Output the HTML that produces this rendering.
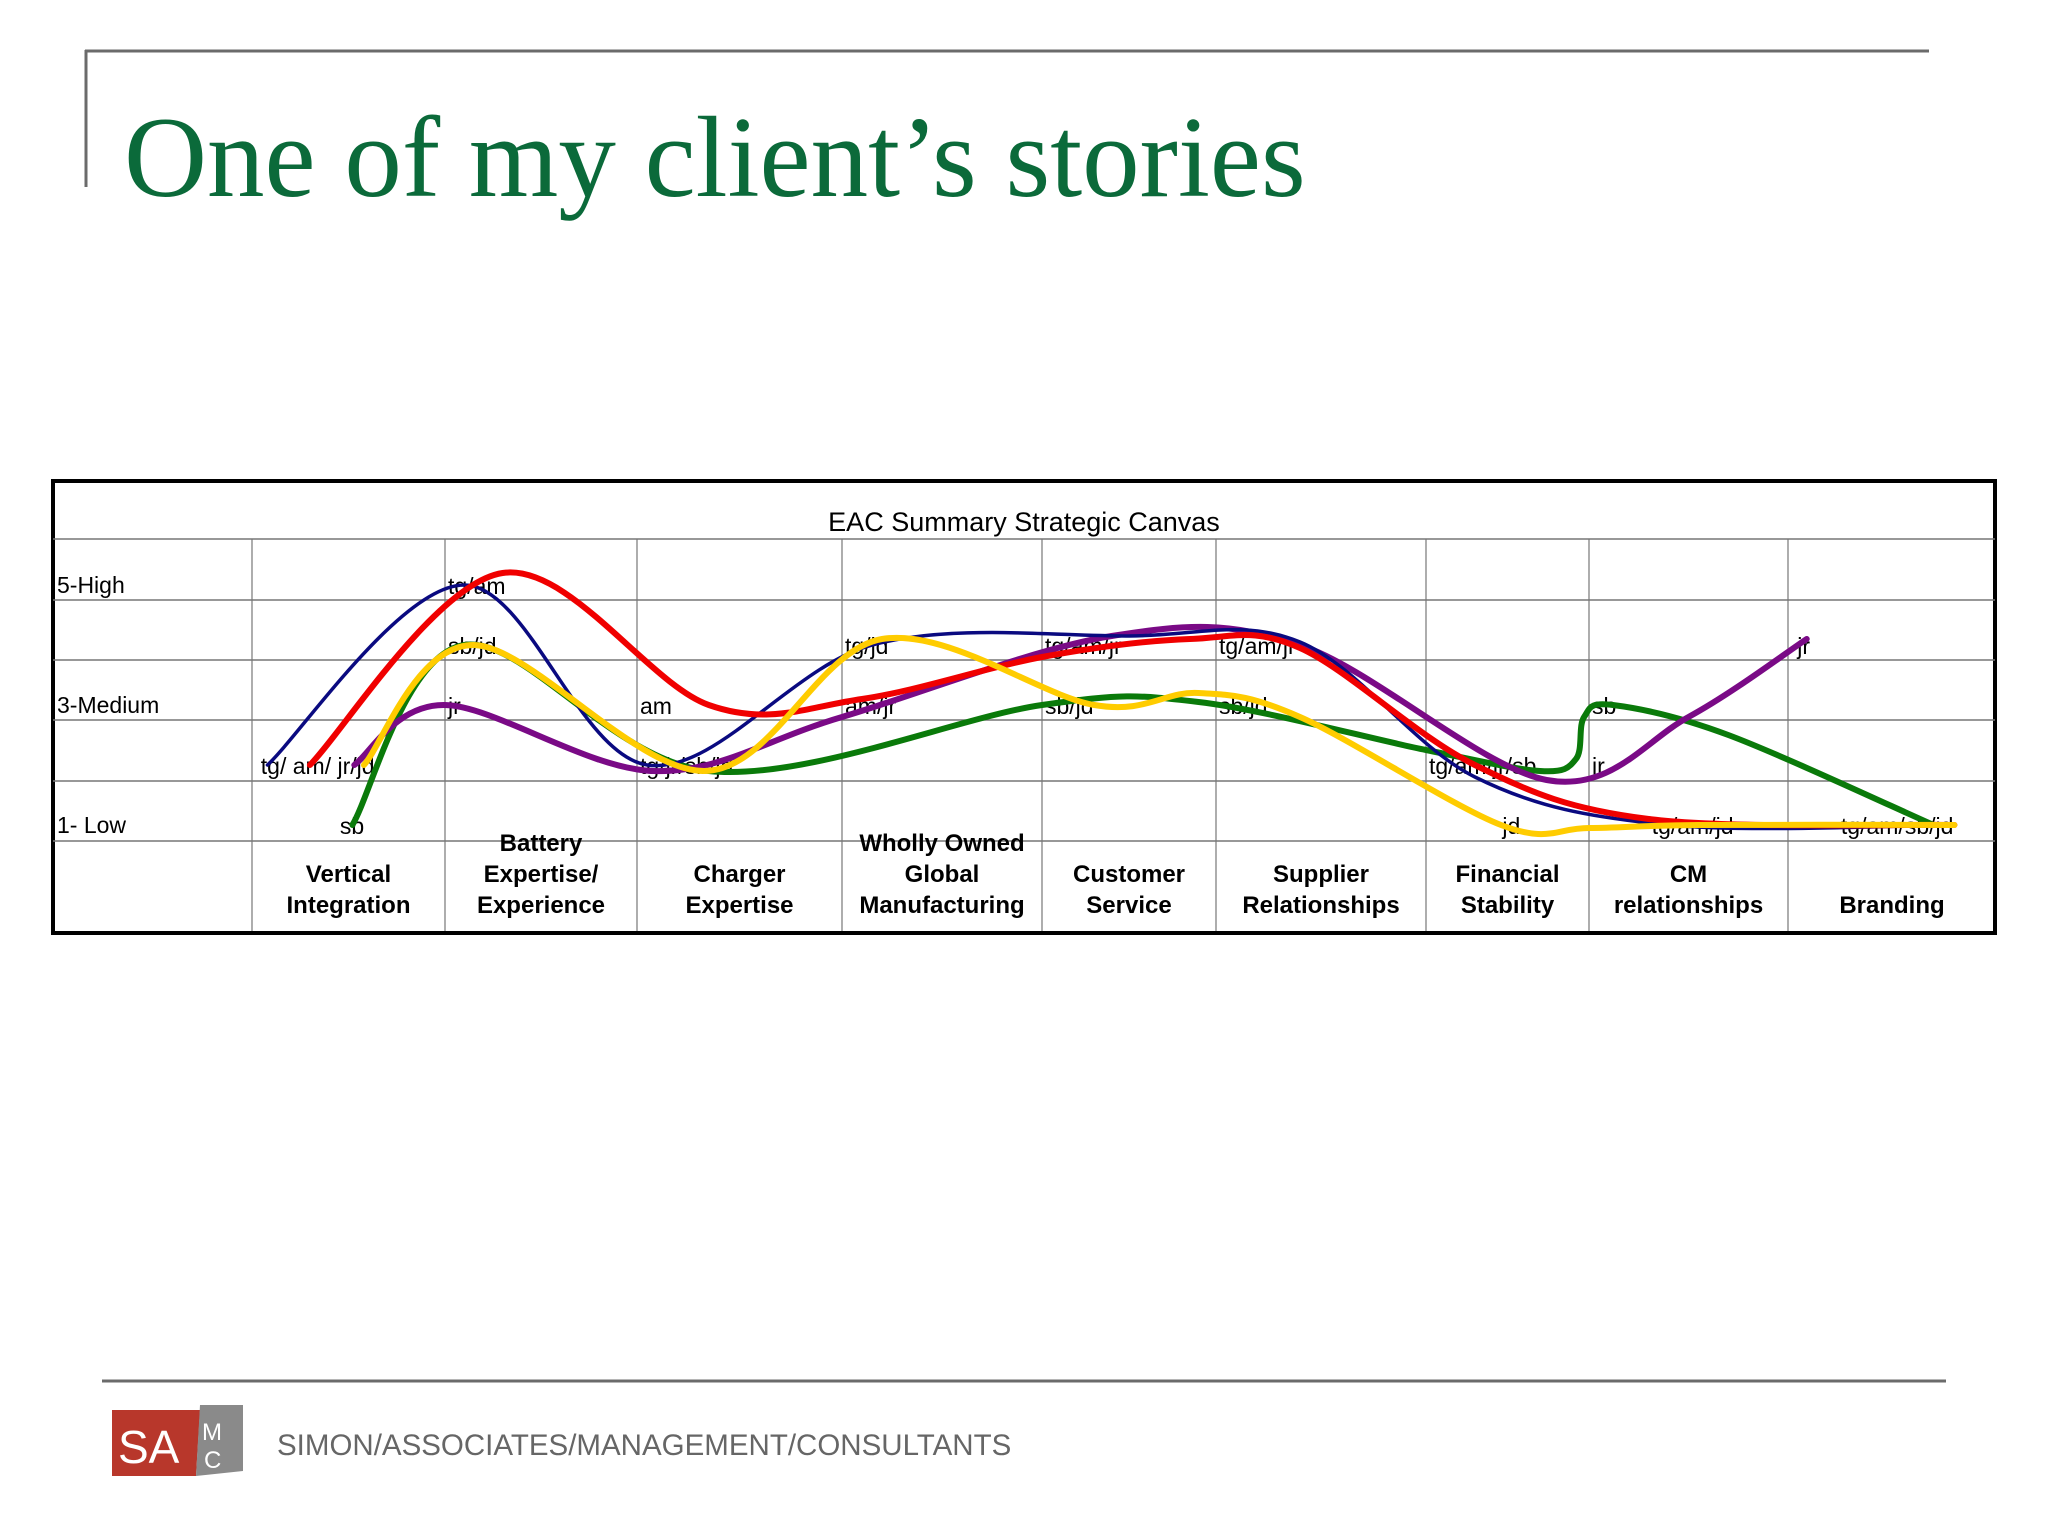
<!DOCTYPE html>
<html><head><meta charset="utf-8"><style>
html,body{margin:0;padding:0;background:#fff;}
svg{display:block;}
</style></head><body>
<svg id="s" width="2048" height="1536" viewBox="0 0 2048 1536" xmlns="http://www.w3.org/2000/svg" font-family="'Liberation Sans', sans-serif">
<line x1="85" y1="51" x2="1929" y2="51" stroke="#6b6b6b" stroke-width="3"/>
<line x1="86" y1="50" x2="86" y2="187" stroke="#6b6b6b" stroke-width="3"/>
<text x="124" y="196" font-family="'Liberation Serif', serif" font-size="115" fill="#0b6a3a">One of my client’s stories</text>
<g id="chart"></g>
<line x1="102" y1="1381" x2="1946" y2="1381" stroke="#6b6b6b" stroke-width="3"/>
<g>
<polygon points="112,1410 200,1410 196,1476 112,1476" fill="#b8372b"/>
<polygon points="200,1405 243,1405 243,1471 196,1476" fill="#8a8a8a"/>
<text x="118" y="1463" font-size="46" fill="#fff">SA</text>
<text x="202" y="1440" font-size="24" fill="#fff">M</text>
<text x="204" y="1468" font-size="24" fill="#fff">C</text>
</g>
<text x="277" y="1455" font-size="29.5" fill="#666">SIMON/ASSOCIATES/MANAGEMENT/CONSULTANTS</text>
</svg>
<script>
const categories=[["Vertical","Integration"],["Battery","Expertise/","Experience"],["Charger","Expertise"],["Wholly Owned","Global","Manufacturing"],["Customer","Service"],["Supplier","Relationships"],["Financial","Stability"],["CM","relationships"],["Branding"]];
const levelLabels=[[5,"5-High"],[3,"3-Medium"],[1,"1- Low"]];
const navyPts=[[0.08,2],[1.1,5],[2.05,2],[3.15,4],[4.5,4.15],[5.4,4.05],[6.3,1.8],[7.4,1],[8.8,1]];
const redPts=[[0.3,2],[1.3,5.2],[2.35,3],[3.1,3.1],[4.0,3.8],[4.85,4.1],[5.4,3.95],[6.3,2],[7.3,1.1],[8.8,1]];
const purplePts=[[0.53,2],[1.0,3],[2.08,1.9],[3.0,2.8],[4.4,4.15],[5.4,4.0],[6.74,1.75],[7.5,2.8],[8.09,4.1]];
const yellowPts=[[0.58,2],[1.15,4],[2.33,1.9],[3.2,4.1],[4.3,3],[4.9,3.2],[5.4,2.8],[6.46,1],[7.0,0.95],[7.55,1],[8.8,1]];
const greenPts=[[0.52,1],[1.1,4],[2.35,1.9],[4.0,3],[4.9,3.05],[6.0,2.25],[6.7,1.9],[6.92,2.1],[6.97,2.8],[7.12,3.0],[7.7,2.5],[8.7,1]];
const annotations=[[1,5,"tg/am"],[1,4,"sb/jd"],[1,3,"jr"],[0.03,2,"tg/ am/ jr/jd"],[0.44,1,"sb"],[2,3,"am"],[2,2,"tg/jr/sb/jd"],[3,4,"tg/jd"],[3,3,"am/jr"],[4,4,"tg/am/jr"],[4,3,"sb/jd"],[5,4,"tg/am/jr"],[5,3,"sb/jd"],[6,2,"tg/am/jr/sb"],[6.45,1,"jd"],[7,3,"sb"],[7,2,"jr"],[7.3,1,"tg/am/jd"],[8.03,4,"jr"],[8.24,1,"tg/am/sb/jd"]];
const colEdges=[252,445,637,842,1042,1216,1426,1589,1788,1996];
function xs(u){const i=Math.min(8,Math.floor(u));return colEdges[i]+(u-i)*(colEdges[i+1]-colEdges[i]);}
function ys(v){return 825-(v-1)*60;}
const NS="http://www.w3.org/2000/svg";
const g=document.getElementById('chart');
function mk(t,a){const e=document.createElementNS(NS,t);for(const k in a)e.setAttribute(k,a[k]);g.appendChild(e);return e;}
const frame=mk('rect',{x:53,y:481,width:1942,height:452,fill:'none',stroke:'#000','stroke-width':4});


[539,600,660,720,781,841].forEach(y=>{const l=mk('line',{x1:53,x2:1995,y1:y,y2:y,stroke:'#777','stroke-width':1.5});

});
colEdges.slice(0,9).forEach(x=>{const l=mk('line',{x1:x,x2:x,y1:539,y2:931,stroke:'#777','stroke-width':1.2});

});
const ct=mk('text',{x:1024,y:531,'font-size':27,'text-anchor':'middle',fill:'#000'});ct.textContent='EAC Summary Strategic Canvas';


levelLabels.forEach(([v,t])=>{const e=mk('text',{x:57,y:ys(v)+8,'font-size':23,fill:'#000'});e.textContent=t;

});
categories.forEach((lines,i)=>{const cx=(colEdges[i]+colEdges[i+1])/2;const n=lines.length;
lines.forEach((t,j)=>{const y=913-(n-1-j)*31;const e=mk('text',{x:cx,y:y,'font-size':24,'font-weight':'bold','text-anchor':'middle',fill:'#000'});e.textContent=t;

});});
annotations.forEach(([u,v,t])=>{const e=mk('text',{x:xs(u)+3,y:ys(v)+9,'font-size':23,fill:'#000'});e.textContent=t;

});
function clampX(x,a,b){return Math.max(Math.min(a,b),Math.min(Math.max(a,b),x));}
function path(pts){const p=pts.map(([u,v])=>[xs(u),ys(v)]);let d='M'+p[0][0]+','+p[0][1];
for(let i=0;i<p.length-1;i++){const p0=p[i-1]||p[i],p1=p[i],p2=p[i+1],p3=p[i+2]||p2;
const c1=[clampX(p1[0]+(p2[0]-p0[0])/6,p1[0],p2[0]),p1[1]+(p2[1]-p0[1])/6],c2=[clampX(p2[0]-(p3[0]-p1[0])/6,p1[0],p2[0]),p2[1]-(p3[1]-p1[1])/6];
d+=` C${c1[0]},${c1[1]} ${c2[0]},${c2[1]} ${p2[0]},${p2[1]}`;}return d;}
[[greenPts,'#0a7a0a',6,'series-sb-green'],[purplePts,'#7a0a86',6,'series-jr-purple'],[navyPts,'#0a0a80',3.5,'series-tg-navy'],[redPts,'#f00000',6,'series-am-red'],[yellowPts,'#ffcc00',6,'series-jd-yellow']].forEach(([pts,c,w,n])=>{
const e=mk('path',{d:path(pts),fill:'none',stroke:c,'stroke-width':w,'stroke-linecap':'round'});

});
</script>
</body></html>
